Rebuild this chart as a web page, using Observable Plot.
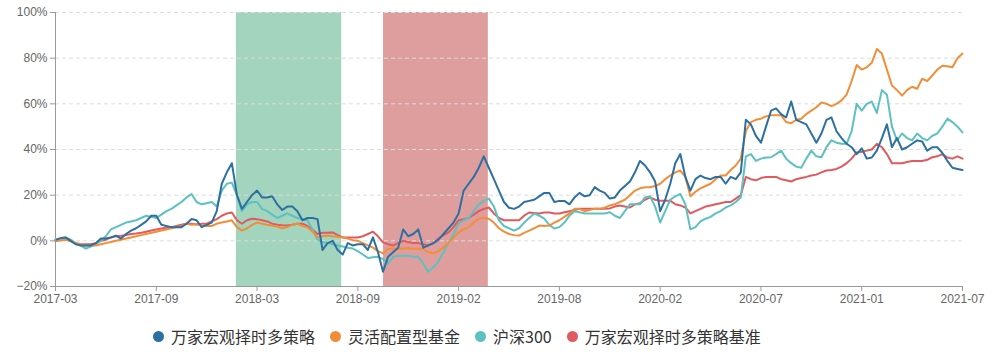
<!DOCTYPE html>
<html>
<head>
<meta charset="utf-8">
<script src="https://cdn.jsdelivr.net/npm/d3@7"></script>
<script src="https://cdn.jsdelivr.net/npm/@observablehq/plot@0.6"></script>
<style>
  html, body { margin: 0; padding: 0; background: #fff; }
  #chart { width: 1004px; }
  .legend { display: flex; justify-content: flex-start; align-items: center; gap: 15px;
    font-family: "Noto Sans CJK SC", "Noto Sans", sans-serif; font-size: 16px; color: #333;
    height: 52px; padding-left: 153px; box-sizing: border-box; width: 1004px; }
  .legend span.item { display: inline-flex; align-items: center; gap: 7px; }
  .legend span.dot { width: 11px; height: 11px; border-radius: 50%; display: inline-block; }
</style>
</head>
<body>
<div id="chart"></div>
<script>
// x-axis tick labels (evenly spaced categories, 20 samples per interval)
const xLabels = ["2017-03","2017-09","2018-03","2018-09","2019-02","2019-08","2020-02","2020-07","2021-01","2021-07"];
const yTicks = [-20, 0, 20, 40, 60, 80, 100];

const seriesNames = ["万家宏观择时多策略", "灵活配置型基金", "沪深300", "万家宏观择时多策略基准"];
const seriesColors = ["#2c70a2", "#f28e38", "#5cc1c0", "#e05a5e"];

// cumulative return, %, 181 evenly spaced samples
const blue = [
  0.5,1.2,1.5,0,-1.5,-2,-2,-2,-1,1,
  1,1.5,2.3,1,3,4.5,5.5,7,8.5,11,
  11,7,6.5,6,6,6,7.5,9.6,9,6,
  7,8,13,25,30,34,20,14,17,20,
  22,19,19,19.5,16,13.5,15,15,13,9,
  10,10,9.5,-4,-1,0,-4,-6,-1,-2,
  -1.5,-1.5,-4,1.5,-5,-13.5,-7,-5,-3,5,
  2,3,5,-3,-2,-1,0.5,3,5.5,8,
  12,22,25,28,32,37,32,27,22,17,
  14.5,14,15,17,17.5,18,19.5,21,21,17,
  17.5,17.5,16,19,21,19.5,20,23.5,22,21,
  18.5,19,22,24,26,30,35,33,30,26,
  13,18,25,34,38,28,22,27,28.6,27.5,
  27,28,28,25,28,27,30,53,51,46,
  43,50,57,58,55.5,54,61,53,52,51,
  47,43,47,53,54,48,45,42.5,41,38,
  40.5,36,36.5,39.5,45,51,41,45,40,41,
  42.5,44,43.5,39.5,41,41,38.5,35,32,31.5,
  31];
const orange = [
  0,0.3,0.5,0,-1,-1.5,-2,-2,-2,-1.5,
  -1,-0.5,0,0.5,1,1.5,2,2.5,3,3.5,
  4,4.5,5,5.5,6,6.5,7.5,7,7.3,7,
  6.5,6.5,7.5,8,8.5,9,6,4.5,5.5,7,
  8,7.5,7,6.7,6.3,5.5,6,7,7.5,6.5,
  6,4,1.5,2,2.3,2,1.8,1.5,1,0.3,
  0,-1,-2,-3,-4.5,-5.5,-3.5,-3.4,-3.6,-3.4,
  -3.2,-3.5,-3.4,-3.6,-5,-5.5,-4.5,-3,-0.7,1.5,
  3.7,5,6,8,9.7,10,9.7,8,5.5,4,
  3,2.5,2.3,3.5,4.5,5.5,6.7,6.5,6.7,8,
  9,10.5,12,14,14,13,13.5,14,14,14.5,
  15.5,16,17,18,20,22,23,23.5,23.5,24,
  25,27,28.6,30,30.8,28,19.5,21.5,23,24,
  25,27,28.6,28.6,31,33,36,48,52,53,
  53.5,54.5,55,55,55,52,51.5,53,53.5,55.5,
  57,58.5,60.6,60,59,60,61.5,64,70,77,
  75,76,78,84,82,75,68,66,63.6,66,
  67.5,66.6,71,70,72.4,75,76.7,76.5,76,80,
  82];
const teal = [
  0,1,1.5,0.5,-1,-2,-3.4,-2.5,-1.5,0,
  2,5,6,7,8,8.5,9,10,11,10.5,
  10,11.5,13,14,15.5,17,19,20.5,17,16,
  16.5,17,15,22,25,25.5,20,13,16,17,
  17,14,13,11.5,10,11,12,11,10,9.5,
  9,5,0.5,-0.5,-1,-1.5,-2,-2.5,-3,-3.4,
  -4.5,-6,-7.5,-7.2,-7,-8,-10,-7,-6.5,-6.5,
  -6.5,-7,-7,-10,-13.5,-11.5,-9,-5,-1,3,
  7.5,9,10,13,16,17.5,18.5,15,9,6.5,
  5.5,4.5,5.5,8,10,12,11,9.7,7,5.4,
  6,8,11,13,12.5,12,12,12,12,12,
  12.5,11,10,13,16,16,16,19,19.5,15,
  8,13,18,19.5,20.5,16,5,6,8.5,9.7,
  10.5,12,13,14.6,15.5,17,19,37,38,35,
  36,36.5,36.6,38,39.5,36,34,32.5,32,36,
  39.5,37,36.6,41,44,43,42.5,42.5,48,60,
  57,60,61,56,66,64,50,44,47,45,
  44,47,45,44,46,47,50,53.5,52,50,
  47.5];
const red = [
  0,0.3,0.5,0,-1,-1.5,-1.5,-1.5,-1,0,
  0.5,1.5,2,2.2,2.5,3,3.2,3.5,4,4.5,
  5,5.4,5.7,6,6.5,7,7.5,7.5,7.2,7.5,
  7.5,8.5,9.5,11,12,12.4,9,7.5,9,9.7,
  9.5,9,8.5,7.5,7,6.8,6.7,7,7.5,7.5,
  6.5,5,3,3.5,3.5,3.7,2.5,1.5,1.5,1.5,
  1.5,2,3,4,2,-0.7,-1.5,-2,-1,0,
  -0.5,-1,-1,-1.5,-2,-1,1,2.5,3.7,6,
  9,9.5,10,11.5,13,14,14.6,12,10,9,
  9,9,9,11,12.4,12.2,12,12.4,12.4,12,
  12,12.5,13,13.5,14,14,14,14,14,14,
  14.2,15,15.5,15,14.6,16,16.5,18,19,18,
  17.6,17.6,17.6,16,15.5,14.6,12,13,14,15,
  15.5,16,16.5,17,17,18.5,20,28,27,26.5,
  27.5,28,28,28,27,26.5,26,27,27.5,28,
  28.6,29,30,30.8,31,31.5,32.5,34,36,38.7,
  39,39.5,40,42.5,41,38,34,34,34,34.5,
  35,35,35,35.5,36.6,37,38,36.5,36,37,
  36];

// shaded periods, in sample-index units
const bandStart = [35.9, 65.1];
const bandEnd = [56.8, 85.9];
const bandColors = ["#a3d4bd", "#de9e9e"];

const allSeries = [blue, orange, teal, red];
const rows = [];
allSeries.forEach((arr, s) => arr.forEach((v, i) => rows.push({i, v, s: seriesNames[s]})));
const bands = bandStart.map((b, k) => ({x1: b, x2: bandEnd[k], fill: bandColors[k]}));
const step = 20;
const xTickPos = xLabels.map((_, k) => k * step);

const drawOrder = [3, 2, 1, 0];

const chart = Plot.plot({
  width: 1004,
  height: 310,
  marginLeft: 55,
  marginRight: 42,
  marginTop: 12,
  marginBottom: 24,
  style: {fontFamily: "'Liberation Sans', 'Noto Sans', sans-serif", fontSize: "12px", color: "#666", background: "#fff"},
  x: {domain: [0, (xLabels.length - 1) * step]},
  y: {domain: [-20, 100]},
  marks: [
    Plot.rect(bands, {x1: "x1", x2: "x2", y1: -20, y2: 100, fill: "fill"}),
    Plot.gridY(yTicks.filter(d => d > -20), {stroke: "#ddd", strokeOpacity: 1, strokeDasharray: "4,3"}),
    ...drawOrder.map(s => Plot.line(rows.filter(r => r.s === seriesNames[s]), {
      x: "i", y: "v", stroke: seriesColors[s], strokeWidth: 2, strokeLinejoin: "round"
    })),
    Plot.ruleY([-20], {stroke: "#999"}),
    Plot.ruleX([0], {stroke: "#999"}),
    Plot.axisX({ticks: xTickPos, tickFormat: d => xLabels[Math.round(d / step)], tickSize: 5, tickPadding: 3, stroke: "#999", fill: "#666", label: null}),
    Plot.axisY({ticks: yTicks, tickFormat: d => (d < 0 ? "−" : "") + Math.abs(d) + "%", tickSize: 5, tickPadding: 3, stroke: "#999", fill: "#666", label: null})
  ]
});
document.getElementById("chart").appendChild(chart);

const legend = document.createElement("div");
legend.className = "legend";
seriesNames.forEach((n, k) => {
  const it = document.createElement("span");
  it.className = "item";
  const dot = document.createElement("span");
  dot.className = "dot";
  dot.style.background = seriesColors[k];
  const t = document.createElement("span");
  t.textContent = n;
  it.appendChild(dot); it.appendChild(t);
  legend.appendChild(it);
});
document.getElementById("chart").appendChild(legend);
</script>
</body>
</html>
